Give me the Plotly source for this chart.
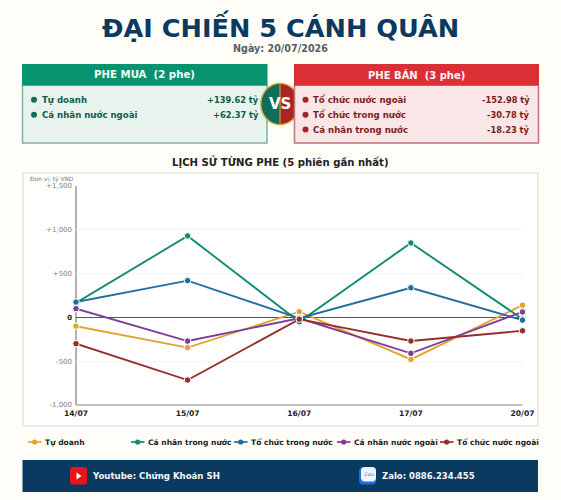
import plotly.graph_objects as go

W, H = 561, 500

sessions = ["14/07", "15/07", "16/07", "17/07", "20/07"]
tu_doanh = [-100, -345, 65, -480, 139.62]
ca_nhan_trong_nuoc = [165, 930, -50, 850, -18.23]
to_chuc_trong_nuoc = [175, 420, -10, 338, -30.78]
ca_nhan_nuoc_ngoai = [100, -270, -10, -410, 62.37]
to_chuc_nuoc_ngoai = [-300, -715, -20, -270, -152.98]

series_names = ["Tự doanh", "Cá nhân trong nước", "Tổ chức trong nước",
                "Cá nhân nước ngoài", "Tổ chức nước ngoài"]
series_values = [tu_doanh, ca_nhan_trong_nuoc, to_chuc_trong_nuoc,
                 ca_nhan_nuoc_ngoai, to_chuc_nuoc_ngoai]
series_colors = ["#e3a42e", "#128c74", "#1f6f9e", "#7d3c98", "#962d2d"]

y_tick_values = [-1000, -500, 0, 500, 1000, 1500]
y_tick_labels = ["-1,000", "-500", "<b style='color:#222'>0</b>", "+500", "+1,000", "+1,500"]

buy_rows = [("Tự doanh", "+139.62 tỷ"), ("Cá nhân nước ngoài", "+62.37 tỷ")]
sell_rows = [("Tổ chức nước ngoài", "-152.98 tỷ"), ("Tổ chức trong nước", "-30.78 tỷ"),
             ("Cá nhân trong nước", "-18.23 tỷ")]

FONT = "DejaVu Sans"
NAVY = "#0b3a60"


def fx(x):
    return x / W


def fy(y):
    return 1 - y / H


def rect(x0, y0, x1, y1, fill, line=None, lw=0, layer="below"):
    return dict(type="rect", xref="paper", yref="paper", x0=fx(x0), x1=fx(x1), y0=fy(y0), y1=fy(y1),
                fillcolor=fill, line=dict(color=line or fill, width=lw), layer=layer)


def disc(cx, cy, rx, fill, ry=None, layer="above"):
    ry = ry or rx
    return dict(type="circle", xref="paper", yref="paper", x0=fx(cx - rx), x1=fx(cx + rx),
                y0=fy(cy + ry), y1=fy(cy - ry), fillcolor=fill,
                line=dict(color=fill, width=0), layer=layer)


def half_disc(cx, cy, rx, ry, side, fill):
    # half ellipse drawn with two cubic segments; side is -1 (left) or +1 (right)
    kx, ky = 0.5523 * rx, 0.5523 * ry
    s = side
    pts = [(cx, cy - ry), (cx + s * kx, cy - ry), (cx + s * rx, cy - ky), (cx + s * rx, cy),
           (cx + s * rx, cy + ky), (cx + s * kx, cy + ry), (cx, cy + ry)]
    p = [f"{fx(x):.5f},{fy(y):.5f}" for x, y in pts]
    path = f"M{p[0]} C{p[1]} {p[2]} {p[3]} C{p[4]} {p[5]} {p[6]} Z"
    return dict(type="path", xref="paper", yref="paper", path=path, fillcolor=fill,
                line=dict(width=0), layer="below")


def rounded(x0, y0, x1, y1, r, fill):
    a, b, c, d = fx(x0), fy(y0), fx(x1), fy(y1)
    rx, ry = r / W, r / H
    path = (f"M{a + rx:.5f},{b:.5f} L{c - rx:.5f},{b:.5f} Q{c:.5f},{b:.5f} {c:.5f},{b - ry:.5f} "
            f"L{c:.5f},{d + ry:.5f} Q{c:.5f},{d:.5f} {c - rx:.5f},{d:.5f} "
            f"L{a + rx:.5f},{d:.5f} Q{a:.5f},{d:.5f} {a:.5f},{d + ry:.5f} "
            f"L{a:.5f},{b - ry:.5f} Q{a:.5f},{b:.5f} {a + rx:.5f},{b:.5f} Z")
    return dict(type="path", xref="paper", yref="paper", path=path, fillcolor=fill,
                line=dict(width=0), layer="above")


def label(x, y, text, size, color, anchor="left", bold=True):
    return dict(xref="paper", yref="paper", x=fx(x), y=fy(y), xanchor=anchor, yanchor="middle",
                text=f"<b>{text}</b>" if bold else text, showarrow=False, borderpad=0,
                font=dict(family=FONT, size=size, color=color))


fig = go.Figure()
for name, values, color in zip(series_names, series_values, series_colors):
    fig.add_trace(go.Scatter(x=sessions, y=values, name=name, mode="lines+markers",
                             line=dict(color=color, width=1.9),
                             marker=dict(size=6.5, color=color, line=dict(color="#ffffff", width=1)),
                             cliponaxis=False, showlegend=False))

shapes = [
    # buy panel, then the VS badge, then the sell panel which overlaps the badge's right edge
    rect(22.5, 85, 267, 143, "#e8f3ee", "#7fb3a2", 1.5),
    rect(22, 64, 267.5, 85.5, "#07936f"),
    disc(280, 104, 20, "#d9b23c", ry=21.5, layer="below"),
    half_disc(280, 104, 18.5, 20, -1, "#0d6e5a"),
    half_disc(280, 104, 18.5, 20, 1, "#ab2424"),
    dict(type="line", xref="paper", yref="paper", x0=fx(280), x1=fx(280), y0=fy(84), y1=fy(124),
         line=dict(color="#d9b23c", width=1), layer="below"),
    rect(294.5, 85, 538.5, 143, "#fae6e7", "#c0737b", 1.5),
    rect(294, 64, 539, 85.5, "#d92f35"),
    # chart card
    rect(23, 173, 538, 426, "#ffffff", "#dcdcd0", 1.2),
    # footer band
    rect(22.5, 460, 538, 492, NAVY),
    # footer icons
    rounded(70, 467, 87, 484.5, 3, "#e8141c"),
    dict(type="path", xref="paper", yref="paper",
         path=f"M{fx(76.5)},{fy(472.5)} L{fx(76.5)},{fy(479.5)} L{fx(81.5)},{fy(476)} Z",
         fillcolor="#ffffff", line=dict(width=0), layer="above"),
    rounded(359, 467, 376, 484.5, 4, "#1a6fe0"),
    rounded(361, 467, 376, 481.5, 4, "#f2f6fc"),
]

annotations = [
    label(280, 26.5, "ĐẠI CHIẾN 5 CÁNH QUÂN", 25.6, NAVY, "center"),
    label(280.5, 48.5, "Ngày: 20/07/2026", 9.6, "#555f66", "center"),
    label(144.5, 74, "PHE MUA&nbsp; (2 phe)", 10.2, "#f2fbf7", "center"),
    label(416.5, 74.5, "PHE BÁN&nbsp; (3 phe)", 10, "#fdf3f3", "center"),
    label(280, 161, "LỊCH SỬ TỪNG PHE (5 phiên gần nhất)", 10.1, "#222222", "center"),
    label(28.5, 179, "Đơn vị: tỷ VND", 5.9, "#777777", bold=False),
    label(280, 104.5, "VS", 15, "#ffffff", "center"),
    label(91, 476, "Youtube: Chứng Khoán SH", 8.6, "#f4f7fa"),
    label(380.5, 476, "Zalo: 0886.234.455", 8.5, "#f4f7fa"),
    label(368.5, 474.5, "Zalo", 4.6, "#1a6fe0", "center", bold=False),
]

# summary rows
for row_y, (name, value) in zip((99.7, 114.7, 129.5), buy_rows):
    shapes.append(disc(34, row_y, 3, "#0d6e5a"))
    annotations.append(label(40.5, row_y, name, 8.6, "#0d5c4b"))
    annotations.append(label(259.5, row_y, value, 8.3, "#0d5c4b", "right"))
for row_y, (name, value) in zip((99.7, 114.7, 129.5), sell_rows):
    shapes.append(disc(305.5, row_y, 3, "#a3222c"))
    annotations.append(label(311.5, row_y, name, 8.6, "#7d1c25"))
    annotations.append(label(530.5, row_y, value, 8.3, "#7d1c25", "right"))

# legend row placed on a fixed pitch under the chart card
for i, (name, color) in enumerate(zip(series_names, series_colors)):
    x0 = 28 + 103 * i
    shapes.append(dict(type="line", xref="paper", yref="paper", x0=fx(x0), x1=fx(x0 + 13.5),
                       y0=fy(442), y1=fy(442), line=dict(color=color, width=1.7), layer="above"))
    shapes.append(disc(x0 + 6.7, 442, 2.6, color))
    annotations.append(label(x0 + 16.2, 442, name, 7.55, "#222222"))

fig.update_layout(
    width=W, height=H, autosize=False,
    margin=dict(l=0, r=0, t=0, b=0, pad=0, autoexpand=False),
    paper_bgcolor="#fffdf8", plot_bgcolor="rgba(0,0,0,0)",
    font=dict(family=FONT),
    showlegend=False,
    shapes=shapes, annotations=annotations,
    xaxis=dict(domain=[fx(76), fx(522.5)], type="category", categoryorder="array",
               categoryarray=sessions, range=[0, 4], showgrid=False, zeroline=False,
               showline=False, ticks="", ticklabelstandoff=2, automargin=False,
               tickfont=dict(family=FONT, size=7.6, color="#222222", weight="bold")),
    yaxis=dict(domain=[fy(405), fy(186)], range=[-1000, 1500], tickmode="array",
               tickvals=y_tick_values, ticktext=y_tick_labels, showgrid=True,
               gridcolor="#f3f3f0", gridwidth=1, zeroline=True, zerolinecolor="#555555",
               zerolinewidth=1.2, showline=False, ticks="", automargin=False, ticklabelstandoff=3,
               tickfont=dict(family=FONT, size=7, color="#808080")),
)
# axis frame lines on the left and bottom of the plot
fig.add_shape(type="line", xref="paper", yref="paper", x0=fx(76), x1=fx(76), y0=fy(186), y1=fy(405),
              line=dict(color="#999999", width=1.5), layer="below")
fig.add_shape(type="line", xref="paper", yref="paper", x0=fx(76), x1=fx(522.5), y0=fy(405), y1=fy(405),
              line=dict(color="#888888", width=1.2), layer="below")

fig.write_html("out.html")
